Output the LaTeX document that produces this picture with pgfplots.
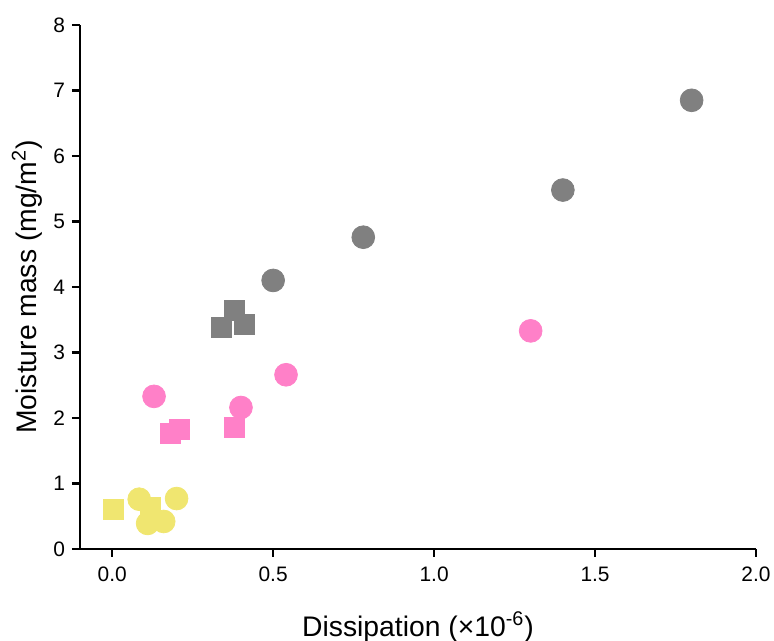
\documentclass[border=0pt]{standalone}
\usepackage{fontspec}
\setmainfont{Liberation Sans}
\usepackage{pgfplots}
\pgfplotsset{compat=1.18}
\usetikzlibrary{calc}
\definecolor{cgray}{RGB}{128,128,128}
\definecolor{cpink}{RGB}{255,128,200}
\definecolor{cyellow}{RGB}{240,230,112}
\begin{document}
\begin{tikzpicture}
\begin{axis}[
  name=ax,
  scale only axis, width=338bp, height=262bp,
  xmin=-0.1, xmax=2.0, ymin=0, ymax=8,
  axis lines=left, axis line style={line width=1.1pt, -},
  xtick={0,0.5,...,2.0}, ytick={0,1,...,8},
  tick style={line width=1.1pt, black},
  tick align=outside, major tick length=4bp,
  xticklabel style={yshift=-1.5bp, /pgf/number format/.cd, fixed, fixed zerofill, precision=1},
  /pgf/number format/assume math mode=true,
  tick label style={font=\fontsize{10.5}{12}\selectfont},
  label style={font=\fontsize{14.2}{17}\selectfont},
  xlabel={Dissipation (×10\textsuperscript{-6})},
  ylabel={Moisture mass (mg/m\textsuperscript{2})},
  xlabel style={at={(axis description cs:0.5,0)}, anchor=north, yshift=-28bp},
  ylabel style={at={(axis description cs:0,0.5)}, anchor=south, yshift=15.5bp},
  clip=false,
]
% gray
\addplot[only marks, mark=square*, mark size=5bp, color=cgray]
  coordinates {(0.38,3.65)(0.34,3.38)(0.41,3.43)};
\addplot[only marks, mark=*, mark size=5.7bp, color=cgray]
  coordinates {(0.50,4.10)(0.78,4.76)(1.40,5.48)(1.80,6.85)};
% pink
\addplot[only marks, mark=square*, mark size=5bp, color=cpink]
  coordinates {(0.18,1.77)(0.21,1.83)(0.38,1.85)};
\addplot[only marks, mark=*, mark size=5.7bp, color=cpink]
  coordinates {(0.13,2.33)(0.40,2.16)(0.54,2.66)(1.30,3.33)};
% yellow
\addplot[only marks, mark=square*, mark size=5bp, color=cyellow]
  coordinates {(0.004,0.60)(0.12,0.63)};
\addplot[only marks, mark=*, mark size=5.7bp, color=cyellow]
  coordinates {(0.084,0.76)(0.11,0.39)(0.16,0.42)(0.20,0.77)};
\end{axis}
\pgfresetboundingbox
\path ($(ax.south west)+(-40bp,-46bp)$) rectangle ($(ax.north east)+(9bp,12.5bp)$);
\end{tikzpicture}
\end{document}
